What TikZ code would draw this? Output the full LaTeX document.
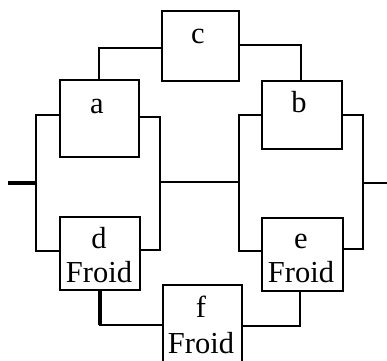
\documentclass[tikz,border=0pt]{standalone}
\usepackage{fontspec}
\setmainfont{Liberation Serif}
\begin{document}
\begin{tikzpicture}[x=1pt,y=-1pt,
  blk/.style={draw, line width=1.7pt, anchor=north west, inner sep=0pt},
  wire/.style={line width=2.2pt, line cap=rect},
  fatwire/.style={line width=3.8pt},
  lbl/.style={anchor=base, font=\fontsize{30.5}{34}\selectfont, inner sep=0pt}]
\useasboundingbox (0,0) rectangle (387,360);

% blocks (top-left corner, size)
\node[blk, minimum width=77pt, minimum height=70pt] (c) at (161,10) {};
\node[blk, minimum width=79pt, minimum height=77pt] (a) at (59,79) {};
\node[blk, minimum width=80pt, minimum height=68pt] (b) at (261,80) {};
\node[blk, minimum width=80pt, minimum height=73pt] (d) at (59,216) {};
\node[blk, minimum width=81pt, minimum height=73pt] (e) at (261,217) {};
\node[blk, minimum width=79pt, minimum height=80pt] (f) at (162,284) {};

% labels
\node[lbl] (ta) at (97,113) {a};
\node[lbl] (tb) at (299,112) {b};
\node[lbl] (tc) at (198,43) {c};
\node[lbl] (td) at (99,248) {d};
\node[lbl] (td2) at (99,282) {Froid};
\node[lbl] (te) at (301,248) {e};
\node[lbl] (te2) at (301,282) {Froid};
\node[lbl] (tf) at (201,317) {f};
\node[lbl] (tf2) at (201,353) {Froid};

% bus points
\coordinate (in) at (8,183);
\coordinate (L1) at (36,183);
\coordinate (R1) at (160,182);
\coordinate (L2) at (239,182);
\coordinate (R2) at (363,183);
\coordinate (out) at (387,183);

% input and output
\draw[fatwire] (in) -- (L1);
\draw[wire] (R2) -- (out);
\draw[wire] (R1) -- (L2);

% left parallel pair a / d
\draw[wire] ([yshift=3.5pt]a.west) -| (L1) |- ([yshift=2.5pt]d.west);
\draw[wire] ([yshift=1.5pt]a.east) -| (R1) |- ([yshift=3.5pt]d.east);

% right parallel pair b / e
\draw[wire] (b.west) -| (L2) |- ([yshift=3.5pt]e.west);
\draw[wire] (b.east) -| (R2) |- ([yshift=5.5pt]e.east);

% bridge c
\draw[wire] ([yshift=-2pt]c.west) -| ([xshift=-0.5pt]a.north);
\draw[wire] ([yshift=1pt]c.east) -| ([xshift=-1pt]b.north);

% bridge f
\draw[fatwire] (d.south) -- (d.south |- 0,325);
\draw[wire] (d.south |- 0,325) -- (f.west |- 0,325);
\draw[wire] ([xshift=-2.5pt]e.south) |- (f.east |- 0,326);
\end{tikzpicture}
\end{document}
